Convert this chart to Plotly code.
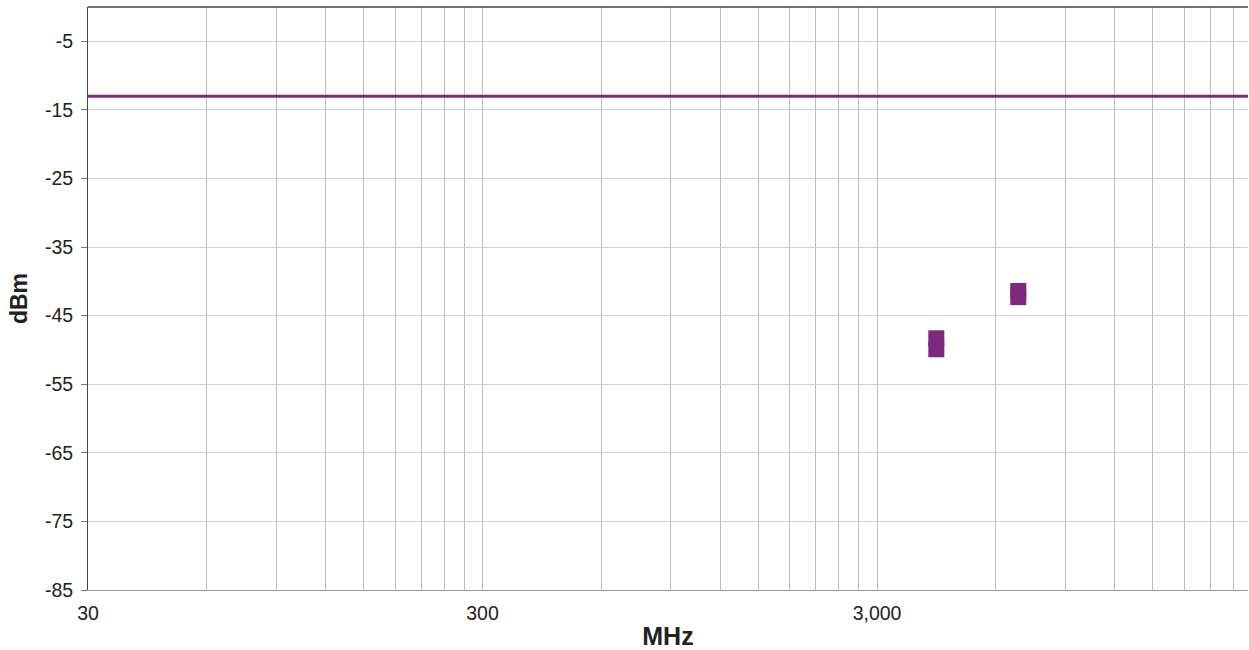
import plotly.graph_objects as go

# Frequency axis (MHz) and emission readings (dBm)
limit_freq = [30, 26200]
limit_level = [-13, -13]

emission_freq = [4240, 4240, 6840, 6840]
emission_level = [-48.3, -49.9, -41.4, -42.3]

x_major = [30, 300, 3000]
x_major_text = ["30", "300", "3,000"]
y_ticks = [-85, -75, -65, -55, -45, -35, -25, -15, -5]
y_tick_text = ["-85", "-75", "-65", "-55", "-45", "-35", "-25", "-15", "-5"]

PURPLE = "#7D2A7E"

# grid positions: every multiple of the decade start
grid_vals = []
for base in (30, 300, 3000):
    for k in range(1, 10):
        v = base * k
        if v <= 26200:
            grid_vals.append(v)
grid_text = [x_major_text[x_major.index(v)] if v in x_major else "" for v in grid_vals]

fig = go.Figure()
fig.add_trace(go.Scatter(
    x=limit_freq, y=limit_level, mode="lines",
    line=dict(color=PURPLE, width=3), showlegend=False, hoverinfo="skip"))
fig.add_trace(go.Scatter(
    x=emission_freq, y=emission_level, mode="markers",
    marker=dict(symbol="square", size=16, color=PURPLE, line=dict(width=0)),
    showlegend=False))

fig.update_layout(
    width=1249, height=650,
    margin=dict(l=88, r=1, t=7, b=60),
    paper_bgcolor="white", plot_bgcolor="white",
    font=dict(family="Liberation Sans, Arial", size=19.5, color="#222"),
    xaxis=dict(
        type="log", range=[1.4771, 4.4174],
        tickmode="array", tickvals=grid_vals, ticktext=grid_text,
        showgrid=True, gridcolor="#BDBDBD", gridwidth=1,
        showline=True, linecolor="#9A9A9A", linewidth=1,
        ticks="", zeroline=False, ticklabelstandoff=6,
        title=dict(text="<b>MHz</b>", font=dict(size=25), standoff=6),
    ),
    yaxis=dict(
        range=[-85, 0], tickmode="array", tickvals=y_ticks, ticktext=y_tick_text,
        showgrid=True, gridcolor="#D3D3D3", gridwidth=1,
        showline=True, linecolor="#444", linewidth=1,
        ticks="outside", ticklen=6, tickcolor="#777", ticklabelstandoff=4,
        zeroline=False,
        title=dict(text="<b>dBm</b>", font=dict(size=23), standoff=10),
    ),
    shapes=[dict(type="line", xref="paper", yref="paper", x0=0, x1=1, y0=1, y1=1,
                 line=dict(color="#444", width=1.5))],
)

fig.write_html("out.html")
